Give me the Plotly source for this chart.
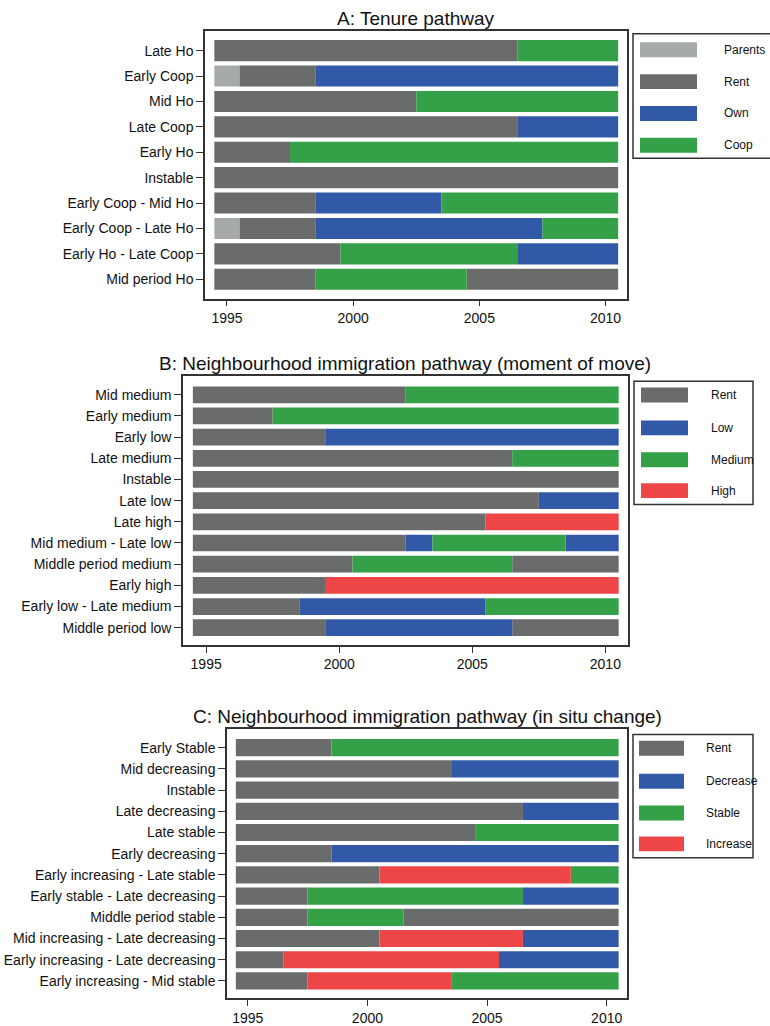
import plotly.graph_objects as go

W, H = 770, 1026
FONT = "Liberation Sans, Arial, sans-serif"

tick_years = [1995, 2000, 2005, 2010]

# ---- A: tenure pathway -------------------------------------------------
tenure_paths = [
    "Late Ho", "Early Coop", "Mid Ho", "Late Coop", "Early Ho", "Instable",
    "Early Coop - Mid Ho", "Early Coop - Late Ho", "Early Ho - Late Coop",
    "Mid period Ho",
]
tenure_states = ["Parents", "Rent", "Own", "Coop"]
tenure_colors = ["#a7aaaa", "#6a6c6c", "#3159a8", "#34a048"]
# spells: (state, first year, last year)
tenure_spells = [
    [("Rent", 1995, 2006), ("Coop", 2007, 2010)],
    [("Parents", 1995, 1995), ("Rent", 1996, 1998), ("Own", 1999, 2010)],
    [("Rent", 1995, 2002), ("Coop", 2003, 2010)],
    [("Rent", 1995, 2006), ("Own", 2007, 2010)],
    [("Rent", 1995, 1997), ("Coop", 1998, 2010)],
    [("Rent", 1995, 2010)],
    [("Rent", 1995, 1998), ("Own", 1999, 2003), ("Coop", 2004, 2010)],
    [("Parents", 1995, 1995), ("Rent", 1996, 1998), ("Own", 1999, 2007), ("Coop", 2008, 2010)],
    [("Rent", 1995, 1999), ("Coop", 2000, 2006), ("Own", 2007, 2010)],
    [("Rent", 1995, 1998), ("Coop", 1999, 2004), ("Rent", 2005, 2010)],
]

# ---- B: neighbourhood immigration (moment of move) ----------------------
move_paths = [
    "Mid medium", "Early medium", "Early low", "Late medium", "Instable",
    "Late low", "Late high", "Mid medium - Late low", "Middle period medium",
    "Early high", "Early low - Late medium", "Middle period low",
]
move_states = ["Rent", "Low", "Medium", "High"]
move_colors = ["#6a6c6c", "#3159a8", "#34a048", "#ee4646"]
move_spells = [
    [("Rent", 1995, 2002), ("Medium", 2003, 2010)],
    [("Rent", 1995, 1997), ("Medium", 1998, 2010)],
    [("Rent", 1995, 1999), ("Low", 2000, 2010)],
    [("Rent", 1995, 2006), ("Medium", 2007, 2010)],
    [("Rent", 1995, 2010)],
    [("Rent", 1995, 2007), ("Low", 2008, 2010)],
    [("Rent", 1995, 2005), ("High", 2006, 2010)],
    [("Rent", 1995, 2002), ("Low", 2003, 2003), ("Medium", 2004, 2008), ("Low", 2009, 2010)],
    [("Rent", 1995, 2000), ("Medium", 2001, 2006), ("Rent", 2007, 2010)],
    [("Rent", 1995, 1999), ("High", 2000, 2010)],
    [("Rent", 1995, 1998), ("Low", 1999, 2005), ("Medium", 2006, 2010)],
    [("Rent", 1995, 1999), ("Low", 2000, 2006), ("Rent", 2007, 2010)],
]

# ---- C: neighbourhood immigration (in situ change) ----------------------
situ_paths = [
    "Early Stable", "Mid decreasing", "Instable", "Late decreasing",
    "Late stable", "Early decreasing", "Early increasing - Late stable",
    "Early stable - Late decreasing", "Middle period stable",
    "Mid increasing - Late decreasing", "Early increasing - Late decreasing",
    "Early increasing - Mid stable",
]
situ_states = ["Rent", "Decrease", "Stable", "Increase"]
situ_colors = ["#6a6c6c", "#3159a8", "#34a048", "#ee4646"]
situ_spells = [
    [("Rent", 1995, 1998), ("Stable", 1999, 2010)],
    [("Rent", 1995, 2003), ("Decrease", 2004, 2010)],
    [("Rent", 1995, 2010)],
    [("Rent", 1995, 2006), ("Decrease", 2007, 2010)],
    [("Rent", 1995, 2004), ("Stable", 2005, 2010)],
    [("Rent", 1995, 1998), ("Decrease", 1999, 2010)],
    [("Rent", 1995, 2000), ("Increase", 2001, 2008), ("Stable", 2009, 2010)],
    [("Rent", 1995, 1997), ("Stable", 1998, 2006), ("Decrease", 2007, 2010)],
    [("Rent", 1995, 1997), ("Stable", 1998, 2001), ("Rent", 2002, 2010)],
    [("Rent", 1995, 2000), ("Increase", 2001, 2006), ("Decrease", 2007, 2010)],
    [("Rent", 1995, 1996), ("Increase", 1997, 2005), ("Decrease", 2006, 2010)],
    [("Rent", 1995, 1997), ("Increase", 1998, 2003), ("Stable", 2004, 2010)],
]

# layout of each panel in pixels: plot frame, title, legend box
panels = [
    dict(title="A: Tenure pathway", paths=tenure_paths, states=tenure_states,
         colors=tenure_colors, spells=tenure_spells,
         frame=(205, 31, 627, 300), yrange=(9.76, -0.78), bar=0.83,
         title_xy=(416, 19),
         legend=dict(box=(633, 34, 790, 159), sw=(640, 697), text_x=722,
                     rows=[50, 82, 114, 146], sh=15)),
    dict(title="B: Neighbourhood immigration pathway (moment of move)",
         paths=move_paths, states=move_states, colors=move_colors,
         spells=move_spells,
         frame=(183, 378, 628, 648), yrange=(11.81, -0.88), bar=0.79,
         title_xy=(405, 365),
         legend=dict(box=(634, 383, 753, 507), sw=(641, 688), text_x=709,
                     rows=[397, 430, 462, 493], sh=15)),
    dict(title="C: Neighbourhood immigration pathway (in situ change)",
         paths=situ_paths, states=situ_states, colors=situ_colors,
         spells=situ_spells,
         frame=(227, 733, 627, 1003), yrange=(11.81, -0.86), bar=0.81,
         title_xy=(427, 720),
         legend=dict(box=(633, 738, 753, 862), sw=(639, 684), text_x=704,
                     rows=[752, 785, 817, 848], sh=15)),
]


def px(x):
    return x / W


def py(y):
    return 1 - y / H


fig = go.Figure()
shapes, annotations = [], []
layout_axes = {}

for k, p in enumerate(panels):
    sfx = "" if k == 0 else str(k + 1)
    for state, color in zip(p["states"], p["colors"]):
        ys, xs, bases = [], [], []
        for i, spells in enumerate(p["spells"]):
            for s, first, last in spells:
                if s == state:
                    ys.append(i)
                    bases.append(first - 0.5)
                    xs.append(last - first + 1)
        if not ys:
            continue
        fig.add_trace(go.Bar(
            orientation="h", y=ys, x=xs, base=bases, width=p["bar"],
            marker=dict(color=color, line=dict(width=0)),
            name=state, showlegend=False,
            xaxis="x" + sfx, yaxis="y" + sfx,
        ))

    x0, y0, x1, y1 = p["frame"]
    axis_style = dict(
        showline=True, mirror=True, linecolor="#333333", linewidth=1.5,
        ticks="outside", tickcolor="#333333", tickwidth=1.2,
        showgrid=False, zeroline=False, fixedrange=True,
        tickfont=dict(family=FONT, size=14, color="#111111"),
    )
    layout_axes["xaxis" + sfx] = dict(
        axis_style, domain=[px(x0), px(x1)], range=[1994.13, 2010.85],
        tickvals=tick_years, ticktext=[str(t) for t in tick_years],
        ticklen=6, anchor="y" + sfx,
    )
    layout_axes["yaxis" + sfx] = dict(
        axis_style, domain=[py(y1), py(y0)], range=list(p["yrange"]),
        tickvals=list(range(len(p["paths"]))), ticktext=p["paths"],
        ticklen=7, anchor="x" + sfx,
    )

    tx, ty = p["title_xy"]
    annotations.append(dict(
        text=p["title"], x=px(tx), y=py(ty), xref="paper", yref="paper",
        xanchor="center", yanchor="middle", showarrow=False,
        font=dict(family=FONT, size=19, color="#111111"),
    ))

    lg = p["legend"]
    bx0, by0, bx1, by1 = lg["box"]
    shapes.append(dict(
        type="rect", xref="paper", yref="paper",
        x0=px(bx0), x1=px(bx1), y0=py(by1), y1=py(by0),
        line=dict(color="#333333", width=1.5), fillcolor="white", layer="above",
    ))
    for state, color, ry in zip(p["states"], p["colors"], lg["rows"]):
        shapes.append(dict(
            type="rect", xref="paper", yref="paper",
            x0=px(lg["sw"][0]), x1=px(lg["sw"][1]),
            y0=py(ry + lg["sh"] / 2), y1=py(ry - lg["sh"] / 2),
            line=dict(width=0), fillcolor=color, layer="above",
        ))
        annotations.append(dict(
            text=state, x=px(lg["text_x"]), y=py(ry), xref="paper",
            yref="paper", xanchor="left", yanchor="middle", showarrow=False,
            font=dict(family=FONT, size=12, color="#111111"),
        ))

fig.update_layout(
    width=W, height=H, autosize=False,
    margin=dict(l=0, r=0, t=0, b=0),
    paper_bgcolor="white", plot_bgcolor="white",
    barmode="overlay", showlegend=False,
    shapes=shapes, annotations=annotations,
    font=dict(family=FONT, size=14, color="#111111"),
    **layout_axes,
)

fig.write_html("out.html")
